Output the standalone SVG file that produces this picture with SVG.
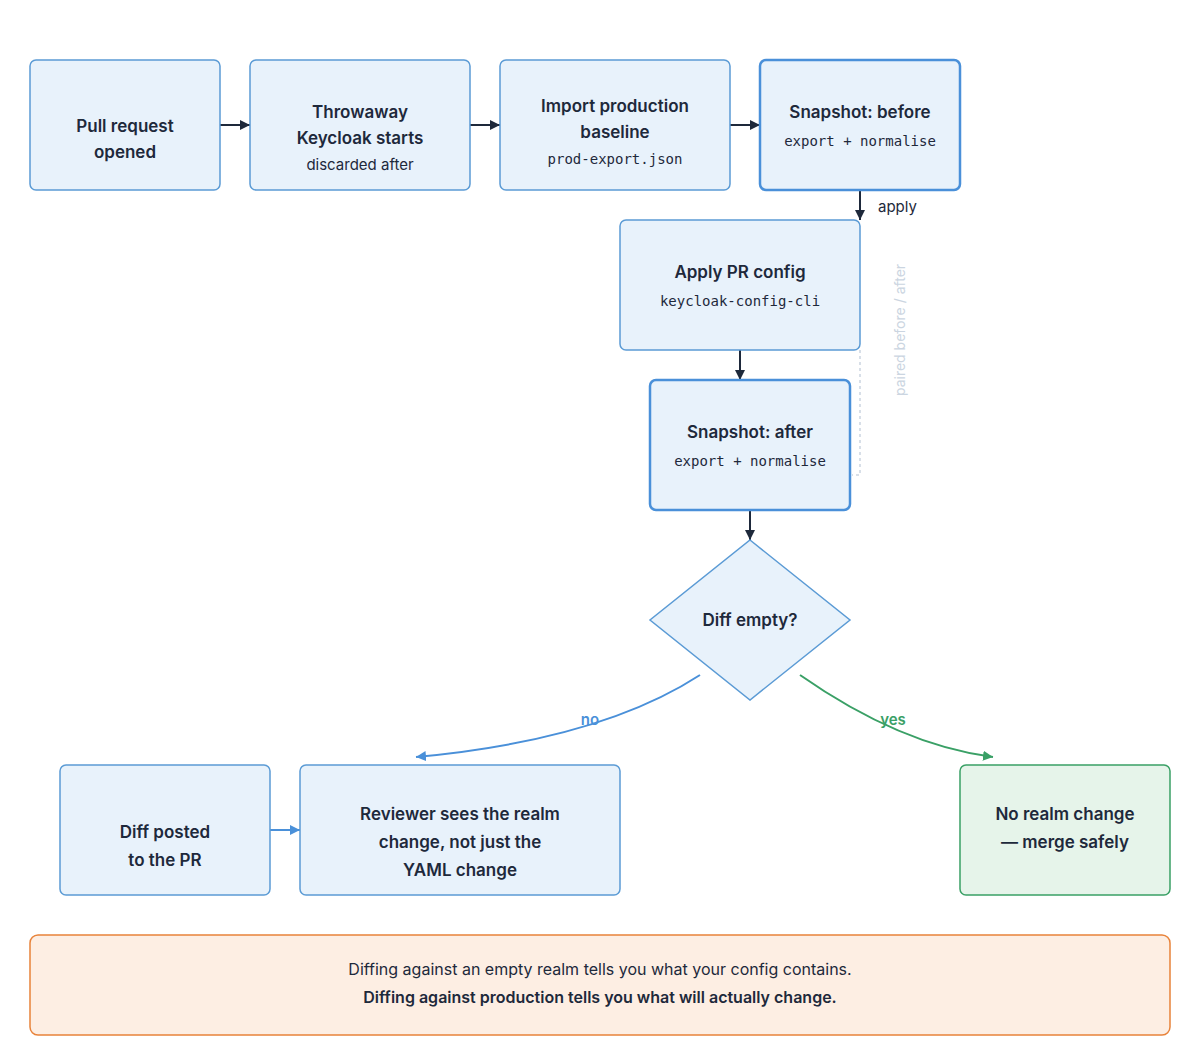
<svg xmlns="http://www.w3.org/2000/svg" width="1200" height="1060" viewBox="0 0 1200 1060">
<style>
.n{fill:#e8f2fb;stroke:#5b9bd5;stroke-width:1.5}
.nb{fill:#e8f2fb;stroke:#4a90d9;stroke-width:2.5}
.t{font-family:Inter,"Liberation Sans",sans-serif;font-size:17px;font-weight:600;fill:#1e293b;text-anchor:middle}
.s{font-family:Inter,"Liberation Sans",sans-serif;font-size:15px;fill:#1e293b;text-anchor:middle}
.m{font-family:"DejaVu Sans Mono","Liberation Mono",monospace;font-size:14px;fill:#1e293b;text-anchor:middle}
.c{stroke:#1e293b;stroke-width:2;fill:none}
</style>
<defs>
<marker id="a" viewBox="0 0 10 10" refX="10" refY="5" markerWidth="10" markerHeight="10" markerUnits="userSpaceOnUse" orient="auto"><path d="M0,0L10,5L0,10z" fill="#1e293b"/></marker>
<marker id="ab" viewBox="0 0 10 10" refX="10" refY="5" markerWidth="10" markerHeight="10" markerUnits="userSpaceOnUse" orient="auto"><path d="M0,0L10,5L0,10z" fill="#4a90d9"/></marker>
<marker id="ag" viewBox="0 0 10 10" refX="10" refY="5" markerWidth="10" markerHeight="10" markerUnits="userSpaceOnUse" orient="auto"><path d="M0,0L10,5L0,10z" fill="#3aa066"/></marker>
</defs>
<g id="connectors">
<path class="c" d="M220,125H250" marker-end="url(#a)" style="stroke-width:2" transform=""/>
<path class="c" d="M470,125H500" marker-end="url(#a)"/>
<path class="c" d="M730,125H760" marker-end="url(#a)"/>
<path class="c" d="M860,190V220" marker-end="url(#a)"/>
<text x="878" y="212" font-family="Inter,'Liberation Sans',sans-serif" font-size="15" fill="#1e293b">apply</text>
<path class="c" d="M740,350V380" marker-end="url(#a)"/>
<path class="c" d="M750,510V540" marker-end="url(#a)"/>
<path d="M860,350V475H852" fill="none" stroke="#cbd5e1" stroke-width="1.5" stroke-dasharray="3,3"/>
<text transform="translate(905,330) rotate(-90)" text-anchor="middle" font-family="Inter,'Liberation Sans',sans-serif" font-size="14" fill="#cbd5e1">paired before / after</text>
<path d="M700,675Q600,740 416,757" fill="none" stroke="#4a90d9" stroke-width="2" marker-end="url(#ab)"/>
<text x="590" y="725" text-anchor="middle" font-family="Inter,'Liberation Sans',sans-serif" font-size="15" font-weight="600" fill="#4a90d9">no</text>
<path d="M800,675Q900,745 993,757" fill="none" stroke="#3aa066" stroke-width="2" marker-end="url(#ag)"/>
<text x="893" y="725" text-anchor="middle" font-family="Inter,'Liberation Sans',sans-serif" font-size="15" font-weight="600" fill="#3aa066">yes</text>
<path d="M270,830H300" fill="none" stroke="#4a90d9" stroke-width="2" marker-end="url(#ab)"/>
</g>
<g id="n1"><rect class="n" x="30" y="60" width="190" height="130" rx="6"/><text class="t" x="125" y="132">Pull request</text><text class="t" x="125" y="158">opened</text></g>
<g id="n2"><rect class="n" x="250" y="60" width="220" height="130" rx="6"/><text class="t" x="360" y="118">Throwaway</text><text class="t" x="360" y="144">Keycloak starts</text><text class="s" x="360" y="170">discarded after</text></g>
<g id="n3"><rect class="n" x="500" y="60" width="230" height="130" rx="6"/><text class="t" x="615" y="112">Import production</text><text class="t" x="615" y="138">baseline</text><text class="m" x="615" y="164">prod-export.json</text></g>
<g id="n4"><rect class="nb" x="760" y="60" width="200" height="130" rx="6"/><text class="t" x="860" y="118">Snapshot: before</text><text class="m" x="860" y="146">export + normalise</text></g>
<g id="n5"><rect class="n" x="620" y="220" width="240" height="130" rx="6"/><text class="t" x="740" y="278">Apply PR config</text><text class="m" x="740" y="306">keycloak-config-cli</text></g>
<g id="n6"><rect class="nb" x="650" y="380" width="200" height="130" rx="6"/><text class="t" x="750" y="438">Snapshot: after</text><text class="m" x="750" y="466">export + normalise</text></g>
<g id="d1"><path class="n" d="M750,540L850,620L750,700L650,620Z"/><text class="t" x="750" y="626">Diff empty?</text></g>
<g id="n7"><rect class="n" x="60" y="765" width="210" height="130" rx="6"/><text class="t" x="165" y="838">Diff posted</text><text class="t" x="165" y="866">to the PR</text></g>
<g id="n8"><rect class="n" x="300" y="765" width="320" height="130" rx="6"/><text class="t" x="460" y="820">Reviewer sees the realm</text><text class="t" x="460" y="848">change, not just the</text><text class="t" x="460" y="876">YAML change</text></g>
<g id="n9"><rect x="960" y="765" width="210" height="130" rx="6" fill="#e6f4ea" stroke="#3aa066" stroke-width="1.5"/><text class="t" x="1065" y="820">No realm change</text><text class="t" x="1065" y="848">— merge safely</text></g>
<g id="note"><rect x="30" y="935" width="1140" height="100" rx="8" fill="#fdeee3" stroke="#e8833a" stroke-width="1.5"/><text class="s" x="600" y="975" style="font-size:16px">Diffing against an empty realm tells you what your config contains.</text><text class="s" x="600" y="1003" style="font-size:16px;font-weight:600">Diffing against production tells you what will actually change.</text></g>
</svg>
